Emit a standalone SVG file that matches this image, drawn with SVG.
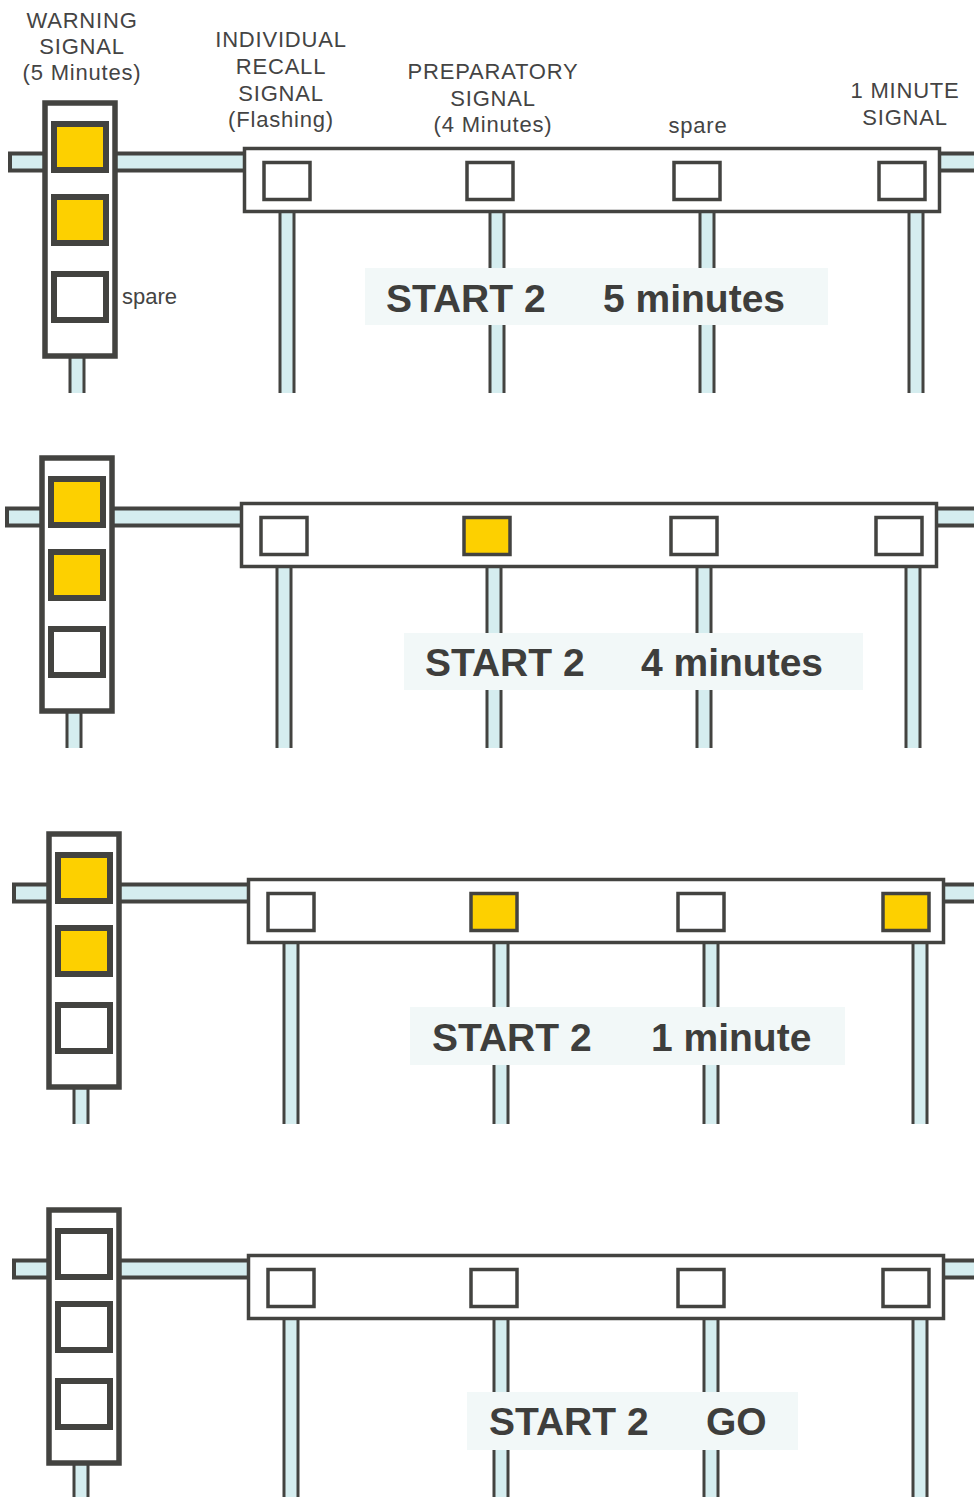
<svg xmlns="http://www.w3.org/2000/svg" width="974" height="1497" viewBox="0 0 974 1497">
<style>
.bar{fill:#d5edef;stroke:#434340;stroke-width:4}
.pd{stroke:#434340;stroke-width:17;fill:none}
.pl{stroke:#d5edef;stroke-width:11;fill:none}
.tower{fill:#fff;stroke:#434340;stroke-width:5.5}
.tl{fill:#fff;stroke:#434340;stroke-width:6}
.cross{fill:#fff;stroke:#434340;stroke-width:3.5}
.cl{fill:#fff;stroke:#434340;stroke-width:3.5}
.on{fill:#fdd000}
.box{fill:#f2f8f8}
.lbl{font-family:"Liberation Sans",Arial,sans-serif;font-size:22px;fill:#444;letter-spacing:0.8px;text-anchor:middle}
.sp{font-family:"Liberation Sans",Arial,sans-serif;font-size:22px;fill:#444}
.big{font-family:"Liberation Sans",Arial,sans-serif;font-size:39px;font-weight:bold;fill:#3e3e3c}
</style>
<defs>
<g id="towerBody">
<rect class="bar" x="10" y="153.5" width="40" height="17"/>
<line class="pd" x1="77" y1="350" x2="77" y2="393"/>
<line class="pl" x1="77" y1="350" x2="77" y2="393"/>
<rect class="tower" x="45" y="103" width="70" height="253"/>
</g>
<g id="gantryBody">
<rect class="bar" x="115" y="153.5" width="133" height="17"/>
<rect class="bar" x="936" y="153.5" width="60" height="17"/>
<path class="pd" d="M287 208V393M497 208V393M707 208V393M916 208V393"/>
<path class="pl" d="M287 208V393M497 208V393M707 208V393M916 208V393"/>
<rect class="cross" x="244.5" y="148.5" width="695" height="63"/>
</g>
</defs>
<rect width="974" height="1497" fill="#fff"/>

<g id="labels">
<text class="lbl" x="82" y="28">WARNING</text>
<text class="lbl" x="82" y="54">SIGNAL</text>
<text class="lbl" x="82" y="80">(5 Minutes)</text>
<text class="lbl" x="281" y="47">INDIVIDUAL</text>
<text class="lbl" x="281" y="74">RECALL</text>
<text class="lbl" x="281" y="101">SIGNAL</text>
<text class="lbl" x="281" y="127">(Flashing)</text>
<text class="lbl" x="493" y="79">PREPARATORY</text>
<text class="lbl" x="493" y="106">SIGNAL</text>
<text class="lbl" x="493" y="132">(4 Minutes)</text>
<text class="lbl" x="698" y="133">spare</text>
<text class="lbl" x="905" y="98">1 MINUTE</text>
<text class="lbl" x="905" y="125">SIGNAL</text>
</g>

<!-- Panel 1 -->
<g id="p1-gantry">
<use href="#gantryBody"/>
<rect class="cl" x="264" y="162.5" width="46" height="37"/>
<rect class="cl" x="467" y="162.5" width="46" height="37"/>
<rect class="cl" x="674" y="162.5" width="46" height="37"/>
<rect class="cl" x="879" y="162.5" width="46" height="37"/>
</g>
<g id="p1-tower">
<use href="#towerBody"/>
<rect class="tl on" x="54" y="124" width="52" height="46"/>
<rect class="tl on" x="54" y="197" width="52" height="46"/>
<rect class="tl" x="54" y="274" width="52" height="46"/>
<text class="sp" x="122" y="304">spare</text>
</g>
<g id="p1-caption">
<rect class="box" x="365" y="268" width="463" height="57"/>
<text class="big" x="386" y="312">START 2</text>
<text class="big" x="603" y="312">5 minutes</text>
</g>

<!-- Panel 2 -->
<g id="p2-gantry" transform="translate(-3,355)">
<use href="#gantryBody"/>
<rect class="cl" x="264" y="162.5" width="46" height="37"/>
<rect class="cl on" x="467" y="162.5" width="46" height="37"/>
<rect class="cl" x="674" y="162.5" width="46" height="37"/>
<rect class="cl" x="879" y="162.5" width="46" height="37"/>
</g>
<g id="p2-tower" transform="translate(-3,355)">
<use href="#towerBody"/>
<rect class="tl on" x="54" y="124" width="52" height="46"/>
<rect class="tl on" x="54" y="197" width="52" height="46"/>
<rect class="tl" x="54" y="274" width="52" height="46"/>
</g>
<g id="p2-caption">
<rect class="box" x="404" y="633" width="459" height="57"/>
<text class="big" x="425" y="676">START 2</text>
<text class="big" x="641" y="676">4 minutes</text>
</g>

<!-- Panel 3 -->
<g id="p3-gantry" transform="translate(4,731)">
<use href="#gantryBody"/>
<rect class="cl" x="264" y="162.5" width="46" height="37"/>
<rect class="cl on" x="467" y="162.5" width="46" height="37"/>
<rect class="cl" x="674" y="162.5" width="46" height="37"/>
<rect class="cl on" x="879" y="162.5" width="46" height="37"/>
</g>
<g id="p3-tower" transform="translate(4,731)">
<use href="#towerBody"/>
<rect class="tl on" x="54" y="124" width="52" height="46"/>
<rect class="tl on" x="54" y="197" width="52" height="46"/>
<rect class="tl" x="54" y="274" width="52" height="46"/>
</g>
<g id="p3-caption">
<rect class="box" x="410" y="1007" width="435" height="58"/>
<text class="big" x="432" y="1051">START 2</text>
<text class="big" x="651" y="1051">1 minute</text>
</g>

<!-- Panel 4 -->
<g id="p4-gantry" transform="translate(4,1107)">
<use href="#gantryBody"/>
<rect class="cl" x="264" y="162.5" width="46" height="37"/>
<rect class="cl" x="467" y="162.5" width="46" height="37"/>
<rect class="cl" x="674" y="162.5" width="46" height="37"/>
<rect class="cl" x="879" y="162.5" width="46" height="37"/>
<path class="pd" d="M287 393V400M497 393V400M707 393V400M916 393V400"/>
<path class="pl" d="M287 392V400M497 392V400M707 392V400M916 392V400"/>
</g>
<g id="p4-tower" transform="translate(4,1107)">
<use href="#towerBody"/>
<rect class="tl" x="54" y="124" width="52" height="46"/>
<rect class="tl" x="54" y="197" width="52" height="46"/>
<rect class="tl" x="54" y="274" width="52" height="46"/>
</g>
<g id="p4-caption">
<rect class="box" x="467" y="1392" width="331" height="58"/>
<text class="big" x="489" y="1435">START 2</text>
<text class="big" x="706" y="1435">GO</text>
</g>
</svg>
